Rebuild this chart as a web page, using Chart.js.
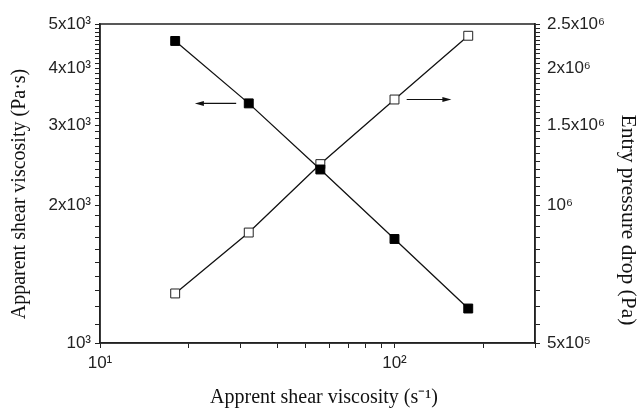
<!DOCTYPE html>
<html>
<head>
<meta charset="utf-8">
<script src="https://cdn.jsdelivr.net/npm/chart.js@4"></script>
<style>
  html, body { margin: 0; padding: 0; background: #fff; }
  #wrap { width: 639px; height: 414px; }
</style>
</head>
<body>
<div id="wrap"><canvas id="chart" width="639" height="414"></canvas></div>
<script>
// shear rate (s^-1)
const shearRate = [18, 32, 56, 100, 178];
// apparent shear viscosity (Pa·s), left axis
const viscosity = [4590, 3350, 2400, 1690, 1190];
// entry pressure drop (Pa), right axis
const pressureDrop = [642000, 873000, 1233000, 1708000, 2356000];

const xTicks = [10, 20, 30, 40, 50, 60, 70, 80, 90, 100, 200, 300];
const xLabels = { 10: "10¹", 100: "10²" };
const leftLabels = { 1000: "10³", 2000: "2x10³", 3000: "3x10³", 4000: "4x10³", 5000: "5x10³" };
const rightLabels = { 500000: "5x10⁵", 1000000: "10⁶", 1500000: "1.5x10⁶", 2000000: "2x10⁶", 2500000: "2.5x10⁶" };

// arrows pointing to each series' axis
const arrows = [
  { from: 29, to: 21, y: 3350, axis: "y" },
  { from: 110, to: 156, y: 1708000, axis: "y2" },
];

const AXIS_COLOR = "#222";
const tickFont = { family: "'Liberation Sans', Arial, sans-serif", size: 17 };
const TITLE_FAMILY = "'Liberation Serif', 'Times New Roman', serif";

function range(lo, hi, step) {
  const out = [];
  for (let v = lo; v <= hi; v += step) out.push(v);
  return out;
}

// ─── Plugins ──────────────────────────────────────────────────────────────────
const frame = {
  id: "frame",
  afterDatasetsDraw(chart) {
    const { ctx, chartArea: a } = chart;
    ctx.save();
    ctx.strokeStyle = AXIS_COLOR;
    ctx.lineWidth = 1.5;
    ctx.strokeRect(a.left, a.top, a.right - a.left, a.bottom - a.top);
    ctx.restore();
  }
};

const arrowPlugin = {
  id: "arrows",
  afterDatasetsDraw(chart) {
    const { ctx } = chart;
    const xs = chart.scales.x;
    ctx.save();
    ctx.strokeStyle = "#111";
    ctx.fillStyle = "#111";
    ctx.lineWidth = 1.2;
    arrows.forEach(a => {
      const x0 = xs.getPixelForValue(a.from);
      const x1 = xs.getPixelForValue(a.to);
      const y = chart.scales[a.axis].getPixelForValue(a.y);
      const dir = Math.sign(x1 - x0);
      ctx.beginPath();
      ctx.moveTo(x0, y);
      ctx.lineTo(x1 - dir * 6, y);
      ctx.stroke();
      ctx.beginPath();
      ctx.moveTo(x1, y);
      ctx.lineTo(x1 - dir * 9, y - 2.5);
      ctx.lineTo(x1 - dir * 9, y + 2.5);
      ctx.closePath();
      ctx.fill();
    });
    ctx.restore();
  }
};

// axis titles, placed as in the original figure
function drawTitle(ctx, text, size, x, y, angle) {
  ctx.save();
  ctx.fillStyle = "#111";
  ctx.font = `${size}px ${TITLE_FAMILY}`;
  ctx.textAlign = "center";
  ctx.textBaseline = "middle";
  ctx.translate(x, y);
  ctx.rotate(angle);
  ctx.fillText(text, 0, 0);
  ctx.restore();
}

const titles = {
  id: "titles",
  afterDraw(chart) {
    const { ctx } = chart;
    drawTitle(ctx, "Apprent shear viscosity (s⁻¹)", 20, 324, 398, 0);
    drawTitle(ctx, "Apparent shear viscosity (Pa·s)", 20, 20, 194, -Math.PI / 2);
    drawTitle(ctx, "Entry pressure drop (Pa)", 21.5, 628, 220, Math.PI / 2);
  }
};

// ─── Chart ────────────────────────────────────────────────────────────────────
new Chart(document.getElementById("chart"), {
  type: "line",
  data: {
    datasets: [
      {
        label: "Apparent shear viscosity",
        data: shearRate.map((x, i) => ({ x, y: viscosity[i] })),
        yAxisID: "y",
        borderColor: "#111",
        borderWidth: 1.3,
        pointStyle: "rect",
        pointRadius: 6.3,
        pointBackgroundColor: "#000",
        pointBorderColor: "#000",
        pointBorderWidth: 1,
        tension: 0,
      },
      {
        label: "Entry pressure drop",
        data: shearRate.map((x, i) => ({ x, y: pressureDrop[i] })),
        yAxisID: "y2",
        borderColor: "#111",
        borderWidth: 1.3,
        pointStyle: "rect",
        pointRadius: 6.3,
        pointBackgroundColor: "#fff",
        pointBorderColor: "#222",
        pointBorderWidth: 1,
        tension: 0,
      }
    ]
  },
  options: {
    responsive: false,
    animation: false,
    events: [],
    layout: { padding: { top: 24, left: 0, right: 0, bottom: 0 } },
    plugins: { legend: { display: false }, tooltip: { enabled: false } },
    scales: {
      x: {
        type: "logarithmic",
        min: 10,
        max: 300,
        afterBuildTicks: s => { s.ticks = xTicks.map(value => ({ value })); },
        afterFit: s => { s.height = 71; },
        border: { display: true, color: AXIS_COLOR, width: 1.5 },
        grid: { drawOnChartArea: false, tickLength: 5, tickColor: AXIS_COLOR, tickWidth: 1 },
        ticks: {
          autoSkip: false, maxRotation: 0, padding: 5, color: AXIS_COLOR, font: tickFont,
          callback: v => xLabels[v] || ""
        }
      },
      y: {
        type: "logarithmic",
        position: "left",
        min: 1000,
        max: 5000,
        afterBuildTicks: s => { s.ticks = range(1000, 5000, 100).map(value => ({ value })); },
        afterFit: s => { s.width = 100; },
        border: { display: true, color: AXIS_COLOR, width: 1.5 },
        grid: { drawOnChartArea: false, tickLength: 5, tickColor: AXIS_COLOR, tickWidth: 1 },
        ticks: {
          autoSkip: false, padding: 4, color: AXIS_COLOR, font: tickFont,
          callback: v => leftLabels[v] || ""
        }
      },
      y2: {
        type: "logarithmic",
        position: "right",
        min: 500000,
        max: 2500000,
        afterBuildTicks: s => { s.ticks = range(500000, 2500000, 50000).map(value => ({ value })); },
        afterFit: s => { s.width = 104; },
        border: { display: true, color: AXIS_COLOR, width: 1.5 },
        grid: { drawOnChartArea: false, tickLength: 5, tickColor: AXIS_COLOR, tickWidth: 1 },
        ticks: {
          autoSkip: false, padding: 7, color: AXIS_COLOR, font: tickFont,
          callback: v => rightLabels[v] || ""
        }
      }
    }
  },
  plugins: [frame, arrowPlugin, titles]
});
</script>
</body>
</html>
